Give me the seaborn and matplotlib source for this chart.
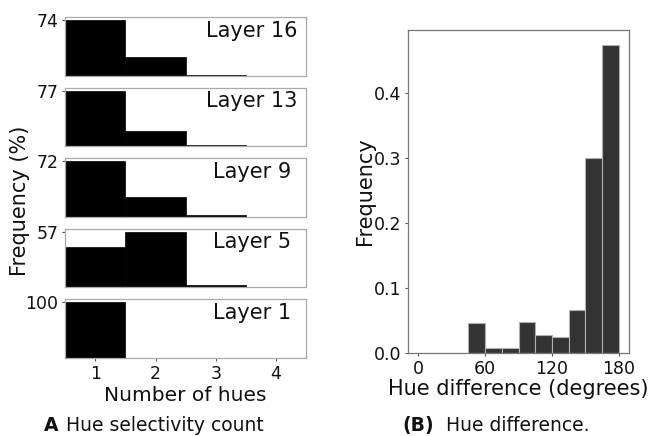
import numpy as np
import pandas as pd
import matplotlib
matplotlib.use("Agg")
import matplotlib.pyplot as plt
import seaborn as sns

# ---------------- data ----------------
num_hues = [1, 2, 3, 4]
layer_names = ["Layer 16", "Layer 13", "Layer 9", "Layer 5", "Layer 1"]
layer16 = [74, 25, 1, 0]
layer13 = [77, 21, 2, 0]
layer9 = [72, 26, 2, 0]
layer5 = [41, 57, 2, 0]
layer1 = [100, 0, 0, 0]
layer_values = [layer16, layer13, layer9, layer5, layer1]

hue_bin_edges = [0, 15, 30, 45, 60, 75, 90, 105, 120, 135, 150, 165, 180]
hue_freq = [0.0, 0.0, 0.0, 0.046, 0.007, 0.007, 0.048, 0.028, 0.025, 0.066, 0.300, 0.473]
hue_xticks = [0, 60, 120, 180]
hue_yticks = [0.0, 0.1, 0.2, 0.3, 0.4]

# ---------------- style ----------------
sns.set_theme(style="white")
plt.rcParams["font.family"] = ["DejaVu Sans"]
plt.rcParams["text.color"] = "#111111"
plt.rcParams["axes.labelcolor"] = "#111111"
plt.rcParams["xtick.color"] = "#111111"
plt.rcParams["ytick.color"] = "#111111"

W, H = 654, 436
fig = plt.figure(figsize=(W / 100, H / 100), dpi=100)


def px_axes(left, top, right, bottom):
    return fig.add_axes([left / W, 1 - bottom / H, (right - left) / W, (bottom - top) / H])


# ---------------- left panel: stacked histograms ----------------
left_x0, left_x1 = 65.3, 306.0
panel_h = 58.5
tops = [17.3 + 70.5 * i for i in range(5)]
axes_left = []
for i, (name, vals) in enumerate(zip(layer_names, layer_values)):
    ax = px_axes(left_x0, tops[i], left_x1, tops[i] + panel_h)
    df = pd.DataFrame({"hues": num_hues, "pct": vals})
    sns.histplot(data=df, x="hues", weights="pct", discrete=True, ax=ax,
                 color="black", edgecolor="black", linewidth=0.5, alpha=1.0)
    mx = max(vals)
    ax.set_xlim(0.5, 4.5)
    ax.set_ylim(0, mx * 1.05)
    ax.set_yticks([mx])
    ax.set_yticklabels([str(mx)], fontsize=12.5)
    ax.set_ylabel("")
    ax.set_xlabel("")
    ax.tick_params(axis="y", length=2.5, width=0.8, color="#555555", pad=2.5, left=True)
    for s in ax.spines.values():
        s.set_color("#aaaaaa")
        s.set_linewidth(0.9)
    ax.text(0.776, 0.665, name, transform=ax.transAxes, ha="center",
            va="baseline", fontsize=15)
    if i < 4:
        ax.set_xticks([])
    else:
        ax.set_xticks(num_hues)
        ax.set_xticklabels([str(v) for v in num_hues], fontsize=12.5)
        ax.tick_params(axis="x", length=2.5, width=0.8, color="#555555", pad=3, bottom=True)
        ax.set_xlabel("Number of hues", fontsize=14.5, labelpad=2)
    axes_left.append(ax)

fig.text(20 / W, 1 - 200.7 / H, "Frequency (%)", rotation=90, ha="center",
         va="center", fontsize=15)

# ---------------- right panel: hue difference ----------------
axr = px_axes(408, 30, 629, 353)
centers = [(a + b) / 2 for a, b in zip(hue_bin_edges[:-1], hue_bin_edges[1:])]
dfr = pd.DataFrame({"diff": centers, "freq": hue_freq})
sns.histplot(data=dfr, x="diff", weights="freq", bins=hue_bin_edges, ax=axr,
             color="#333333", edgecolor="#b0b0b0", linewidth=0.8, alpha=1.0)
axr.set_xlim(-9, 189)
axr.set_ylim(0, max(hue_freq) * 1.05)
axr.set_xticks(hue_xticks)
axr.set_xticklabels([str(v) for v in hue_xticks], fontsize=12.5)
axr.set_yticks(hue_yticks)
axr.set_yticklabels([f"{v:.1f}" for v in hue_yticks], fontsize=12.5)
axr.tick_params(length=2.5, width=0.8, color="#555555", pad=2.5, left=True, bottom=True)
axr.set_xlabel("Hue difference (degrees)", fontsize=15, labelpad=1)
axr.set_ylabel("Frequency", fontsize=15, labelpad=-1)
for s in axr.spines.values():
    s.set_color("#777777")
    s.set_linewidth(0.9)

# ---------------- captions ----------------
cap_y = 1 - 431 / H
fig.text(44 / W, cap_y, "A", fontsize=13.5, fontweight="bold", ha="left", va="baseline")
fig.text(66 / W, cap_y, "Hue selectivity count", fontsize=13.5, ha="left", va="baseline")
fig.text(402 / W, cap_y, "(B)", fontsize=13.5, fontweight="bold", ha="left", va="baseline")
fig.text(446 / W, cap_y, "Hue difference.", fontsize=13.5, ha="left", va="baseline")

fig.savefig("out.png", dpi=100)
